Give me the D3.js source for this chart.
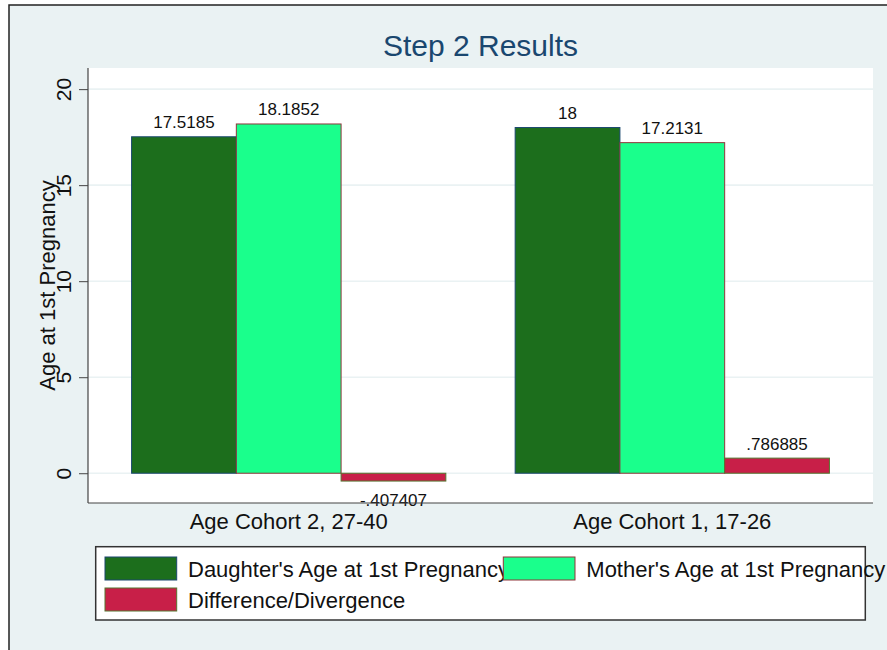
<!DOCTYPE html>
<html>
<head>
<meta charset="utf-8">
<script src="https://cdn.jsdelivr.net/npm/d3@7/dist/d3.min.js"></script>
<style>
body { margin: 0; background: #fff; }
text { font-family: "Liberation Sans", Arial, Helvetica, sans-serif; fill: #111; }
</style>
</head>
<body>
<div id="chart"></div>
<script>
// data
var categories = ["Age Cohort 2, 27-40", "Age Cohort 1, 17-26"];
var seriesNames = ["Daughter's Age at 1st Pregnancy", "Mother's Age at 1st Pregnancy", "Difference/Divergence"];
var daughterAge = [17.5185, 18];
var motherAge = [18.1852, 17.2131];
var difference = [-0.407407, 0.786885];
var yTicks = [0, 5, 10, 15, 20];

var fills = ["#1c6e1c", "#1aff8c", "#c81f48"];
var outlines = ["#1a476f", "#90353b", "#55752f"];

var width = 887, height = 650;
var plot = {left: 88, right: 873, top: 68, bottom: 503};

var svg = d3.select("#chart").append("svg")
  .attr("width", width)
  .attr("height", height);

// outer graph region
svg.append("rect")
  .attr("x", 9).attr("y", 5)
  .attr("width", width + 20).attr("height", height + 20)
  .attr("fill", "#eaf2f3")
  .attr("stroke", "#222")
  .attr("stroke-width", 1.5);

svg.append("rect")
  .attr("x", plot.left).attr("y", plot.top)
  .attr("width", plot.right - plot.left).attr("height", plot.bottom - plot.top)
  .attr("fill", "#fff");

var y = d3.scaleLinear().domain([-1.55, 21.1]).range([plot.bottom, plot.top]);

var x0 = d3.scaleBand().domain(categories)
  .range([plot.left, plot.right])
  .paddingInner(0.1807).paddingOuter(0.1136);

var x1 = d3.scaleBand().domain(d3.range(seriesNames.length))
  .range([0, x0.bandwidth()]);

// gridlines
svg.append("g").selectAll("line").data(yTicks).enter().append("line")
  .attr("x1", plot.left).attr("x2", plot.right)
  .attr("y1", function(d){ return y(d); })
  .attr("y2", function(d){ return y(d); })
  .attr("stroke", "#eaf2f3")
  .attr("stroke-width", 1.6);

var rows = categories.map(function(c, i){
  return {cat: c, vals: [daughterAge[i], motherAge[i], difference[i]]};
});

function fmt(v){
  return String(v).replace(/^(-?)0\./, "$1.");
}

var groups = svg.append("g").selectAll("g").data(rows).enter().append("g")
  .attr("transform", function(d){ return "translate(" + x0(d.cat) + ",0)"; });

groups.selectAll("rect")
  .data(function(d){ return d.vals; })
  .enter().append("rect")
  .attr("x", function(d, i){ return x1(i); })
  .attr("y", function(d){ return y(Math.max(0, d)); })
  .attr("width", x1.bandwidth())
  .attr("height", function(d){ return Math.abs(y(d) - y(0)); })
  .attr("fill", function(d, i){ return fills[i]; })
  .attr("stroke", function(d, i){ return outlines[i]; })
  .attr("stroke-width", 1);

groups.selectAll("text.val")
  .data(function(d){ return d.vals; })
  .enter().append("text")
  .attr("class", "val")
  .attr("x", function(d, i){ return x1(i) + x1.bandwidth() / 2; })
  .attr("y", function(d){ return d >= 0 ? y(d) - 8.5 : y(d) + 25; })
  .attr("text-anchor", "middle")
  .style("font-size", "17px")
  .text(fmt);

// y axis
var yAxis = d3.axisLeft(y).tickValues(yTicks).tickSize(9).tickSizeOuter(0);
var ya = svg.append("g")
  .attr("transform", "translate(" + plot.left + ",0)")
  .call(yAxis);
ya.select(".domain").remove();
ya.selectAll(".tick line").attr("stroke", "#444");
ya.selectAll(".tick text")
  .attr("x", null).attr("dy", null)
  .attr("transform", "translate(-25,0) rotate(-90)")
  .attr("text-anchor", "middle")
  .attr("dy", "0.36em")
  .style("font-size", "21px")
  .style("font-family", "\"Liberation Sans\", Arial, sans-serif")
  .attr("fill", "#111");

svg.append("line")
  .attr("x1", plot.left).attr("x2", plot.left)
  .attr("y1", plot.top).attr("y2", plot.bottom)
  .attr("stroke", "#444").attr("stroke-width", 1.2);
svg.append("line")
  .attr("x1", plot.left).attr("x2", plot.right)
  .attr("y1", plot.bottom).attr("y2", plot.bottom)
  .attr("stroke", "#444").attr("stroke-width", 1.2);

// category labels
svg.append("g").selectAll("text").data(categories).enter().append("text")
  .attr("x", function(d){ return x0(d) + x0.bandwidth() / 2; })
  .attr("y", 529)
  .attr("text-anchor", "middle")
  .style("font-size", "22px")
  .text(function(d){ return d; });

// titles
svg.append("text")
  .attr("x", (plot.left + plot.right) / 2)
  .attr("y", 56)
  .attr("text-anchor", "middle")
  .style("font-size", "30px")
  .style("fill", "#1a476f")
  .text("Step 2 Results");

svg.append("text")
  .attr("transform", "translate(47," + (plot.top + plot.bottom) / 2 + ") rotate(-90)")
  .attr("text-anchor", "middle")
  .attr("dy", "0.36em")
  .style("font-size", "22px")
  .text("Age at 1st Pregnancy");

// legend
svg.append("rect")
  .attr("x", 95.7).attr("y", 546.7)
  .attr("width", 769.6).attr("height", 73.3)
  .attr("fill", "#fff")
  .attr("stroke", "#333").attr("stroke-width", 1.5);

var legendPos = [[105, 557], [503.3, 557], [105, 588]];
var leg = svg.append("g").selectAll("g").data(seriesNames).enter().append("g")
  .attr("transform", function(d, i){ return "translate(" + legendPos[i][0] + "," + legendPos[i][1] + ")"; });
leg.append("rect")
  .attr("width", 71.7).attr("height", 23)
  .attr("fill", function(d, i){ return fills[i]; })
  .attr("stroke", function(d, i){ return outlines[i]; })
  .attr("stroke-width", 1);
leg.append("text")
  .attr("x", 83).attr("y", 19.5)
  .style("font-size", "22px")
  .text(function(d){ return d; });
</script>
</body>
</html>
